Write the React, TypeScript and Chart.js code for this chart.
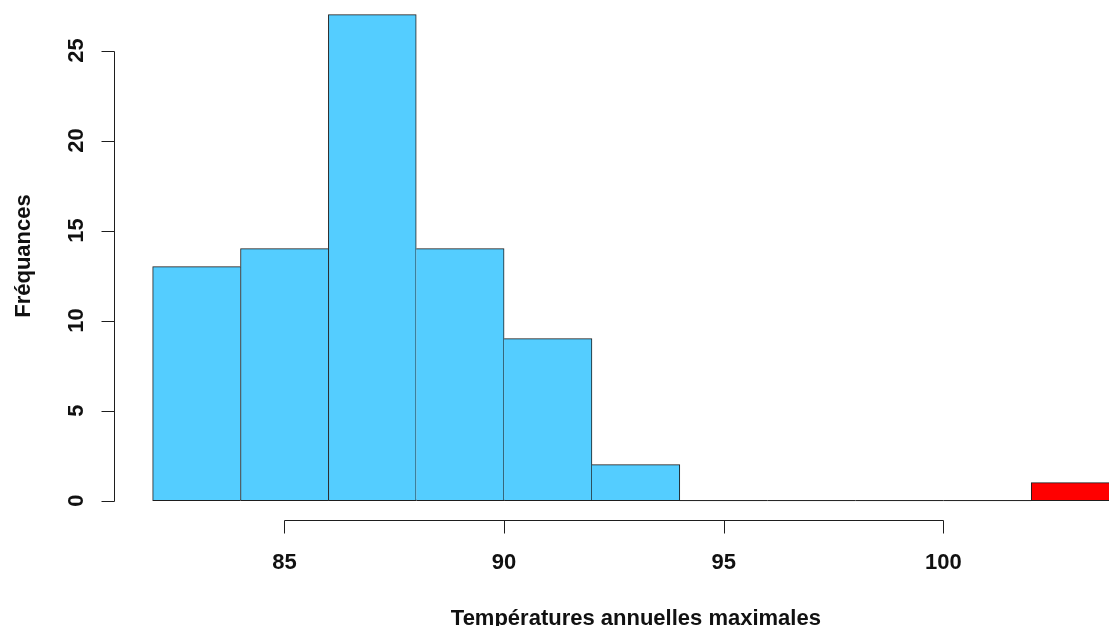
import { useEffect, useRef } from "react";
import { Chart, registerables } from "chart.js";

Chart.register(...registerables);

// Histogram bins (left edges) and their counts
const BIN_STARTS = [82, 84, 86, 88, 90, 92, 94, 96, 98, 100, 102];
const BIN_WIDTH = 2;
const COUNTS = [13, 14, 27, 14, 9, 2, 0, 0, 0, 0, 1];
// Bins that start above this temperature are drawn in red
const HOT_FROM = 100;

const X_TICKS = [85, 90, 95, 100];
const Y_TICKS = [0, 5, 10, 15, 20, 25];
const X_TITLE = "Températures annuelles maximales";
const Y_TITLE = "Fréquances";

const BAR_FILL = "#54CDFF";
const HOT_FILL = "#FF0000";
const INK = "#1e1e1e";
const FONT = "bold 22px 'Liberation Sans', Arial, sans-serif";

// Plot ranges padded by 4% as in base R graphics; the right side runs off the canvas
const X_LO = BIN_STARTS[0] - 0.04 * (BIN_STARTS[BIN_STARTS.length - 1] + BIN_WIDTH - BIN_STARTS[0]);
const X_HI = BIN_STARTS[BIN_STARTS.length - 1] + BIN_WIDTH + (BIN_STARTS[0] - X_LO);
const X_VIEW_HI = 103.77;
const Y_LO = -0.04 * Math.max(...COUNTS);
const Y_VIEW_HI = 27.81;

const W = 1109;
const H = 626;

// Flat baseline segments for the empty bins
function emptyBinSegments() {
  const pts: { x: number; y: number | null }[] = [];
  COUNTS.forEach((c, i) => {
    if (c !== 0) return;
    const lo = BIN_STARTS[i];
    const hi = lo + BIN_WIDTH;
    const last = pts[pts.length - 1];
    if (last && last.y !== null && last.x === lo) {
      pts.push({ x: hi, y: 0 });
    } else {
      if (pts.length) pts.push({ x: lo - BIN_WIDTH / 2, y: null });
      pts.push({ x: lo, y: 0 }, { x: hi, y: 0 });
    }
  });
  return pts;
}

const axesPlugin = {
  id: "baseAxes",
  afterDatasetsDraw(chart: any) {
    const { ctx, chartArea, scales } = chart;
    const xs = scales.x;
    const ys = scales.y;
    const tick = 13;
    ctx.save();
    ctx.strokeStyle = INK;
    ctx.fillStyle = "#111";
    ctx.lineWidth = 1;
    ctx.font = FONT;

    // y axis
    const ax = Math.round(chartArea.left) + 0.5;
    const yTop = ys.getPixelForValue(Y_TICKS[Y_TICKS.length - 1]);
    const yBot = ys.getPixelForValue(Y_TICKS[0]);
    ctx.beginPath();
    ctx.moveTo(ax, Math.round(yTop) + 0.5);
    ctx.lineTo(ax, Math.round(yBot) + 0.5);
    Y_TICKS.forEach((v) => {
      const py = Math.round(ys.getPixelForValue(v)) + 0.5;
      ctx.moveTo(ax, py);
      ctx.lineTo(ax - tick, py);
    });
    ctx.stroke();
    ctx.textAlign = "center";
    ctx.textBaseline = "alphabetic";
    Y_TICKS.forEach((v) => {
      const py = ys.getPixelForValue(v);
      ctx.save();
      ctx.translate(ax - 31.5, py);
      ctx.rotate(-Math.PI / 2);
      ctx.fillText(String(v), 0, 0);
      ctx.restore();
    });

    // x axis
    const ay = Math.round(chartArea.bottom) + 0.5;
    const xL = Math.round(xs.getPixelForValue(X_TICKS[0])) + 0.5;
    const xR = Math.round(xs.getPixelForValue(X_TICKS[X_TICKS.length - 1])) + 0.5;
    ctx.beginPath();
    ctx.moveTo(xL, ay);
    ctx.lineTo(xR, ay);
    X_TICKS.forEach((v) => {
      const px = Math.round(xs.getPixelForValue(v)) + 0.5;
      ctx.moveTo(px, ay);
      ctx.lineTo(px, ay + tick);
    });
    ctx.stroke();
    X_TICKS.forEach((v) => {
      ctx.fillText(String(v), xs.getPixelForValue(v), ay + 48);
    });

    // axis titles, centred on the full plotting region
    const xMid = xs.getPixelForValue((X_LO + X_HI) / 2);
    ctx.fillText(X_TITLE, xMid, 624.5);
    ctx.save();
    ctx.translate(30, 256);
    ctx.rotate(-Math.PI / 2);
    ctx.fillText(Y_TITLE, 0, 0);
    ctx.restore();

    ctx.restore();
  },
};

export default function App() {
  const ref = useRef<HTMLCanvasElement | null>(null);

  useEffect(() => {
    const canvas = ref.current;
    if (!canvas) return;
    const n = COUNTS.length;
    const chart = new Chart(canvas, {
      type: "bar",
      data: {
        datasets: [
          {
            type: "bar",
            data: COUNTS.map((c, i) => ({ x: BIN_STARTS[i] + BIN_WIDTH / 2, y: c })),
            backgroundColor: BIN_STARTS.map((s, i) =>
              COUNTS[i] === 0 ? "rgba(0,0,0,0)" : s >= HOT_FROM ? HOT_FILL : BAR_FILL
            ),
            borderColor: INK,
            borderSkipped: false,
            // shared edges are drawn once, by the taller neighbour
            borderWidth: (c: any) => {
              const i = c.dataIndex;
              const v = COUNTS[i];
              if (v === 0) return 0;
              const prev = i > 0 ? COUNTS[i - 1] : 0;
              const next = i < n - 1 ? COUNTS[i + 1] : 0;
              return {
                top: 1,
                bottom: 1,
                left: prev <= v ? 1 : 0,
                right: next < v ? 1 : 0,
              };
            },
            barPercentage: 1,
            categoryPercentage: 1,
          } as any,
          {
            type: "line",
            data: emptyBinSegments(),
            borderColor: INK,
            borderWidth: 1,
            pointRadius: 0,
            spanGaps: false,
            fill: false,
          } as any,
        ],
      },
      options: {
        responsive: false,
        animation: false,
        devicePixelRatio: 1,
        layout: { padding: { left: 114, top: 0, right: 0, bottom: 106 } },
        scales: {
          x: {
            type: "linear",
            display: false,
            offset: false,
            grid: { offset: false },
            min: X_LO,
            max: X_VIEW_HI,
            ticks: { stepSize: 5, includeBounds: false },
          },
          y: {
            type: "linear",
            display: false,
            min: Y_LO,
            max: Y_VIEW_HI,
            ticks: { stepSize: 5, includeBounds: false },
          },
        },
        plugins: {
          legend: { display: false },
          tooltip: { enabled: false },
        },
      },
      plugins: [axesPlugin],
    });
    return () => chart.destroy();
  }, []);

  return (
    <div
      style={{
        position: "fixed",
        left: 0,
        top: 0,
        width: W,
        height: H,
        overflow: "hidden",
        background: "#fff",
      }}
    >
      <canvas ref={ref} width={W} height={H} style={{ display: "block" }} />
    </div>
  );
}
